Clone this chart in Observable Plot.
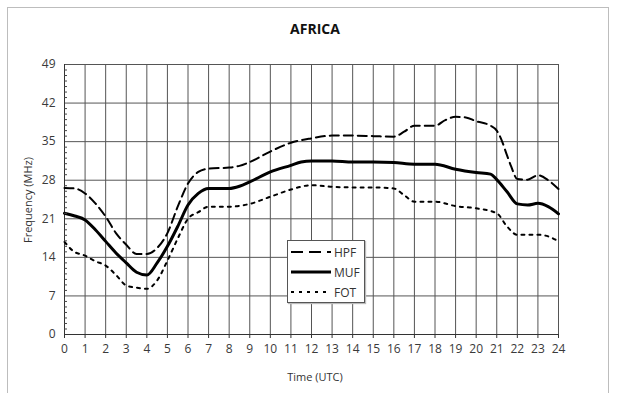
<!DOCTYPE html>
<html><head><meta charset="utf-8">
<script src="https://cdn.jsdelivr.net/npm/d3@7"></script>
<script src="https://cdn.jsdelivr.net/npm/@observablehq/plot@0.6"></script>
<style>
body{margin:0;background:#fff;font-family:"Open Sans",sans-serif;}
#wrap{position:relative;width:617px;height:393px;overflow:hidden;background:#fff;}
#border{position:absolute;left:7px;top:7px;width:600px;height:420px;border:1px solid #bdbdbd;}
#chart{position:absolute;left:0;top:0;}
.title{position:absolute;left:0;width:630px;top:19px;text-align:center;font-weight:bold;font-size:14px;color:#111;}
.xlab{position:absolute;left:0;width:630px;top:369px;text-align:center;font-size:11px;color:#333;}
.ylab{position:absolute;left:27px;top:200px;transform:translate(-50%,-50%) rotate(-90deg);font-size:11px;color:#333;white-space:nowrap;}
#legend{position:absolute;left:287px;top:240px;width:76px;height:61px;border:1px solid #555;background:#fff;box-shadow:1px 1px 1px #bbb;}
.lg{position:absolute;left:2px;height:14px;display:flex;align-items:center;font-size:12px;color:#333;}
.lg svg{margin-right:2px;}
</style></head><body>
<div id="wrap">
<div id="border"></div>
<div id="chart"></div>
<div class="title">AFRICA</div>
<div class="xlab">Time (UTC)</div>
<div class="ylab">Frequency (MHz)</div>
<div id="legend"></div>
</div>
<script>
const hours = d3.range(0, 25);
const yTicks = [0, 7, 14, 21, 28, 35, 42, 49];
const minorTicks = d3.range(0, 50).filter(v => v % 7 !== 0);

const hpfTime = [0,0.5,1,1.5,2,2.5,3,3.5,4,4.5,5,5.5,6,6.5,7,8,8.5,9,10,11,12,13,14,15,16,16.5,17,18,18.5,19,19.5,20,20.7,21,21.2,21.5,21.7,22,22.5,23,23.5,24];
const hpfValue = [26.6,26.5,25.6,23.8,21.4,18.4,16.3,14.6,14.6,15.7,18.4,23.2,27.4,29.5,30.1,30.3,30.6,31.3,33.2,34.8,35.6,36.1,36.1,36.0,35.9,36.8,37.9,37.9,38.9,39.5,39.4,38.7,37.9,37.0,35.6,32.5,30.5,28.2,28.1,28.9,28.0,26.4];

const mufTime = [0,0.5,1,1.5,2,2.5,3,3.5,4,4.5,5,5.5,6,6.5,7,8,8.5,9,10,11,11.5,12,13,14,15,16,17,18,19,20,20.7,21,21.5,22,22.5,23,23.5,24];
const mufValue = [22.0,21.5,20.8,19.0,16.9,14.8,13.0,11.3,10.8,13.0,16.0,19.6,23.5,25.6,26.5,26.5,26.9,27.7,29.5,30.7,31.3,31.5,31.5,31.3,31.3,31.2,30.9,30.9,30.0,29.4,29.1,28.1,25.9,23.7,23.5,23.8,23.2,21.9];

const fotTime = [0,0.4,1,1.5,2,2.5,3,3.5,4,4.5,5,5.5,6,6.5,7,8,9,10,11,12,13,14,15,16,16.5,17,18,19,20,21,21.5,22,23,23.5,24];
const fotValue = [16.8,15.2,14.3,13.3,12.5,10.8,8.9,8.5,8.3,9.8,13.4,17.4,21.0,22.2,23.2,23.2,23.7,25.0,26.3,27.1,26.8,26.7,26.7,26.5,25.3,24.1,24.1,23.3,22.9,22.0,19.6,18.1,18.1,17.8,16.9];

const seriesNames = ["HPF", "MUF", "FOT"];
const zip = (t, v) => t.map((x, i) => ({t: x, v: v[i]}));
const hpf = zip(hpfTime, hpfValue);
const muf = zip(mufTime, mufValue);
const fot = zip(fotTime, fotValue);

const styles = {
  HPF: {strokeWidth: 2, strokeDasharray: "9,5"},
  MUF: {strokeWidth: 3, strokeDasharray: null},
  FOT: {strokeWidth: 2, strokeDasharray: "3,5"}
};

const chart = Plot.plot({
  width: 617,
  height: 393,
  marginLeft: 64,
  marginRight: 59,
  marginTop: 64,
  marginBottom: 59,
  style: {fontFamily: "'Open Sans', sans-serif", fontSize: "12px", color: "#3a3a3a", background: "transparent"},
  x: {domain: [0, 24], label: null},
  y: {domain: [0, 49], label: null},
  marks: [
    Plot.ruleX(hours, {stroke: "#555", strokeWidth: 1}),
    Plot.ruleY(yTicks, {stroke: "#555", strokeWidth: 1}),
    Plot.ruleX([0], {stroke: "#333"}),
    Plot.ruleY([0], {stroke: "#333"}),
    Plot.line(hpf, {x: "t", y: "v", stroke: "#000", curve: "monotone-x", strokeWidth: 2, strokeDasharray: "9,5"}),
    Plot.line(muf, {x: "t", y: "v", stroke: "#000", curve: "monotone-x", strokeWidth: 3}),
    Plot.line(fot, {x: "t", y: "v", stroke: "#000", curve: "monotone-x", strokeWidth: 2, strokeDasharray: "3,5"}),
    Plot.axisX(hours, {tickSize: 4, tickPadding: 6, label: null, stroke: "#333"}),
    Plot.axisY(yTicks, {tickSize: 0, tickPadding: 9, label: null}),
    Plot.axisY(minorTicks, {tickSize: -3, tickFormat: () => "", label: null, stroke: "#444"})
  ]
});
document.getElementById("chart").appendChild(chart);

// legend
const legend = document.getElementById("legend");
const legendTop = [4, 24, 44];
seriesNames.forEach((name, i) => {
  const s = styles[name];
  const row = document.createElement("div");
  row.className = "lg";
  row.style.top = legendTop[i] + "px";
  row.innerHTML = `<svg width="42" height="10"><line x1="1" x2="41" y1="5" y2="5" stroke="#000" stroke-width="${s.strokeWidth}" ${s.strokeDasharray ? `stroke-dasharray="${name === "HPF" ? "12,6" : s.strokeDasharray}"` : ""}/></svg><span>${name}</span>`;
  legend.appendChild(row);
});
</script>
</body></html>
